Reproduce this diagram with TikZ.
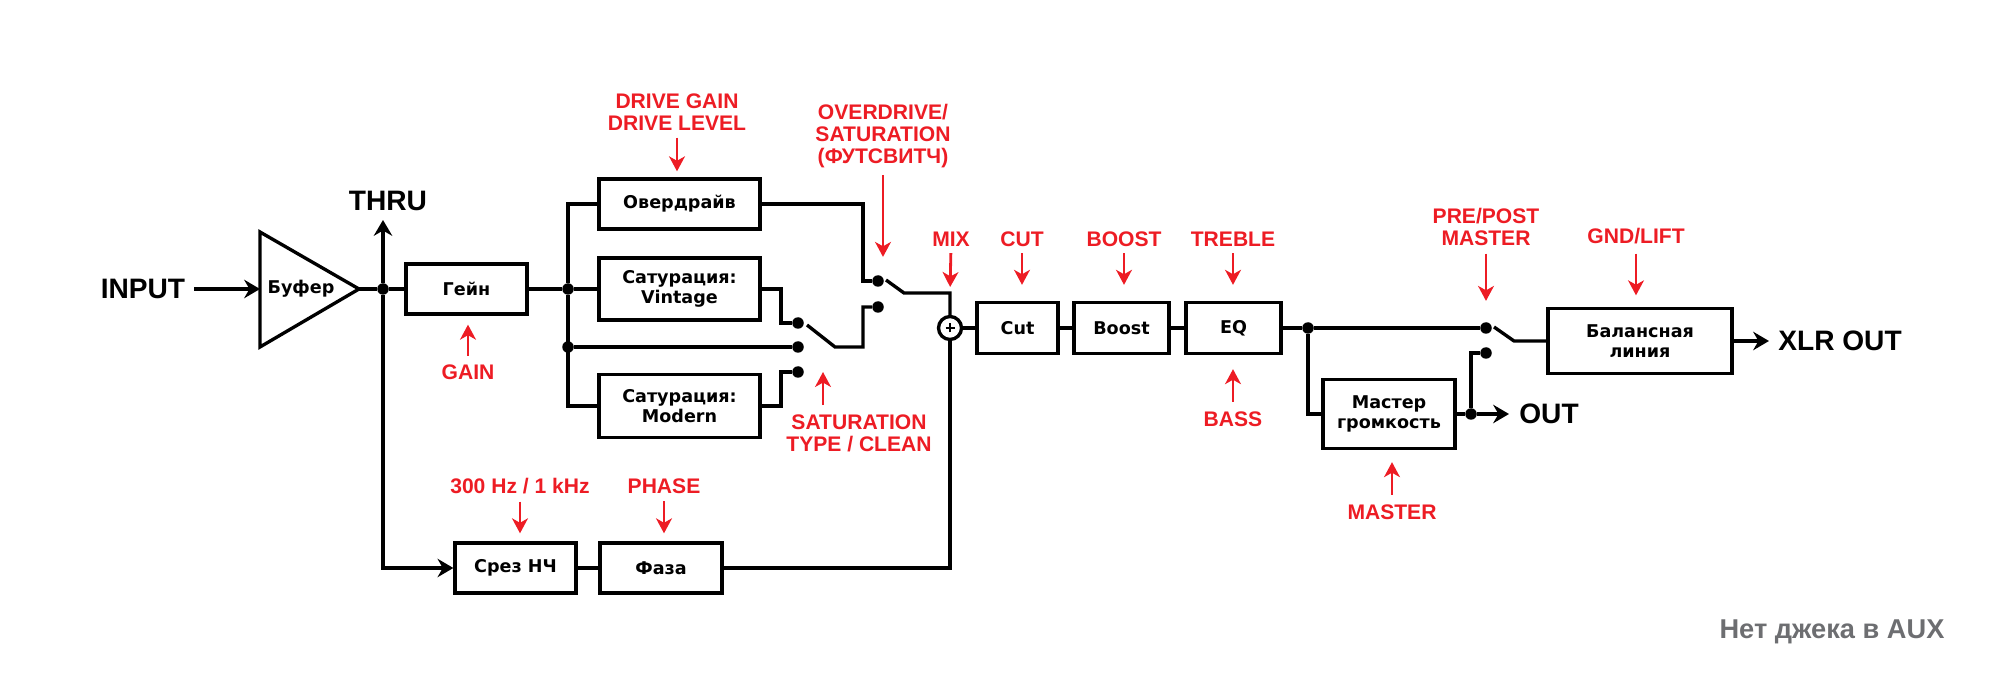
\documentclass[tikz,border=0pt]{standalone}
\usepackage{fontspec}
\setmainfont{Liberation Sans}
\newfontfamily\boxfont{DejaVu Sans}
\usetikzlibrary{arrows.meta}
\definecolor{ctlred}{HTML}{ED1C24}
\definecolor{notegray}{HTML}{6D6E71}

\begin{document}
\begin{tikzpicture}[x=0.02cm, y=-0.02cm,
	wire/.style={line width=1.9pt},
	sig/.style={wire, -{Stealth[length=9pt, width=10.5pt, inset=3pt]}},
	box/.style={draw, line width=1.9pt, inner sep=0pt, align=center, font=\boxfont\bfseries\fontsize{10}{11.6}\selectfont},
	dot/.style={circle, fill, inner sep=0pt, minimum size=0.23cm},
	ctl/.style={ctlred, line width=1.6pt, -{Stealth[length=8.5pt, width=9pt, inset=2.5pt]}},
	ctllabel/.style={text=ctlred, inner sep=0pt, align=center, font=\bfseries\fontsize{12}{12.5}\selectfont},
	bigtext/.style={inner sep=0pt, font=\bfseries\fontsize{16}{16}\selectfont}]
	\useasboundingbox (0,0) rectangle (2001,678);
	\node[bigtext] (input) at (143,289) {INPUT};
	\coordinate (bufin) at (260,289);
	\coordinate (bufout) at (359,289);
	\draw[wire] (260,232) -- (bufout) -- (260,347) -- cycle;
	\node[font=\boxfont\bfseries\fontsize{10}{11.6}\selectfont, inner sep=0pt] (buf) at (301,289) {Буфер};
	\draw[sig, shorten <=0.17cm] (input.east) -- (bufin);
	\node[box, minimum width=2.42cm, minimum height=1cm] (gain) at (466.5,289) {Гейн};
	\node[box, minimum width=3.22cm, minimum height=1cm] (od) at (679.5,204) {Овердрайв};
	\node[box, minimum width=3.22cm, minimum height=1.24cm] (vint) at (679.5,289) {Сатурация:\\Vintage};
	\node[box, minimum width=3.22cm, minimum height=1.25cm] (mod) at (679.5,406) {Сатурация:\\Modern};
	\node[box, minimum width=1.62cm, minimum height=1.02cm] (cut) at (1017.5,328) {Cut};
	\node[box, minimum width=1.9cm, minimum height=1.02cm] (boost) at (1121.5,328) {Boost};
	\node[box, minimum width=1.9cm, minimum height=1.02cm] (eq) at (1233.5,328) {EQ};
	\node[box, minimum width=2.64cm, minimum height=1.38cm] (master) at (1389,414) {Мастер\\громкость};
	\node[box, minimum width=3.68cm, minimum height=1.3cm] (bal) at (1640,341) {Балансная\\линия};
	\node[box, minimum width=2.42cm, minimum height=1cm] (hpf) at (515.5,568) {Срез НЧ};
	\node[box, minimum width=2.44cm, minimum height=1cm] (phase) at (661,568) {Фаза};
	\node[dot] (j1) at (383,289) {};
	\draw[wire] (bufout) -- (j1) -- (gain.west);
	\node[bigtext] (thru) at (388,201) {THRU};
	\coordinate (thrutip) at (383,220);
	\draw[sig] (j1) -- (thrutip);
	\draw[sig] (j1) |- (hpf.west);
	\node[dot] (jb1) at (568,289) {};
	\node[dot] (jb2) at (568,347) {};
	\draw[wire] (gain.east) -- (jb1) -- (vint.west);
	\draw[wire] (od.west) -| (jb1) |- (mod.west);
	\node[dot] (s1a) at (798,323) {};
	\node[dot] (s1b) at (798,347) {};
	\node[dot] (s1c) at (798,372) {};
	\draw[wire] (jb2) -- (s1b);
	\draw[wire] (vint.east) -- (781,289) |- (s1a);
	\draw[wire] (mod.east) -- (781,406) |- (s1c);
	\node[dot] (s2a) at (878,281) {};
	\node[dot] (s2b) at (878,307) {};
	\draw[wire] (807,325) -- (835,347) -- (863,347) |- (s2b);
	\draw[wire] (od.east) -- (863,204) |- (s2a);
	\node[circle, draw, line width=1.9pt, minimum size=0.46cm, inner sep=0pt] (sum) at (950,328) {};
	\draw[line width=1.5pt] ([xshift=-0.09cm]sum.center) -- ([xshift=0.09cm]sum.center) ([yshift=-0.09cm]sum.center) -- ([yshift=0.09cm]sum.center);
	\coordinate (mixin) at (950,293);
	\draw[wire] (886,280) -- (904,293) -- (mixin) -- (sum.north);
	\draw[wire] (sum.east) -- (cut.west) (cut.east) -- (boost.west) (boost.east) -- (eq.west);
	\draw[wire] (hpf.east) -- (phase.west);
	\draw[wire] (phase.east) -| (sum.south);
	\node[dot] (j3) at (1308,328) {};
	\node[dot] (s3a) at (1486,328) {};
	\node[dot] (s3b) at (1486,353) {};
	\draw[wire] (eq.east) -- (j3) -- (s3a);
	\draw[wire] (j3) |- (master.west);
	\node[dot] (j4) at (1471,414) {};
	\draw[wire] (master.east) -- (j4) |- (s3b);
	\node[bigtext] (out) at (1549,414) {OUT};
	\draw[sig, shorten >=0.2cm] (j4) -- (out.west);
	\draw[wire] (1494,327) -- (1514,341) -- (bal.west);
	\node[bigtext] (xlr) at (1840,341) {XLR OUT};
	\draw[sig, shorten >=0.18cm] (bal.east) -- (xlr.west);
	\node[font=\bfseries\fontsize{15.5}{15.5}\selectfont, text=notegray, inner sep=0pt] (note) at (1832,632) {Нет джека в AUX};
	\node[ctllabel] (lDrive) at (677,112) {DRIVE GAIN\\DRIVE LEVEL};
	\draw[ctl, shorten <=0.14cm, shorten >=0.12cm] (lDrive.south) -- (lDrive.south |- od.north);
	\node[ctllabel] (lFoot) at (883,136) {OVERDRIVE/\\SATURATION\\(ФУТСВИТЧ)};
	\draw[ctl, shorten <=0.14cm, shorten >=0.36cm] (lFoot.south) -- (lFoot.south |- s2a.north);
	\node[ctllabel] (lMix) at (951,239) {MIX};
	\draw[ctl, shorten <=0.13cm, shorten >=0.12cm] (lMix.south) -- (mixin);
	\node[ctllabel] (lSat) at (859,433) {SATURATION\\TYPE / CLEAN};
	\coordinate (sattip) at (823,372);
	\draw[ctl, shorten <=0.18cm] (sattip |- lSat.north) -- (sattip);
	\node[ctllabel] (lGain) at (468,372) {GAIN};
	\draw[ctl, shorten <=0.17cm, shorten >=0.18cm] (lGain.north) -- (lGain.north |- gain.south);
	\node[ctllabel] (lCut) at (1022,239) {CUT};
	\draw[ctl, shorten <=0.13cm, shorten >=0.32cm] (lCut.south) -- (lCut.south |- cut.north);
	\node[ctllabel] (lBoost) at (1124,239) {BOOST};
	\draw[ctl, shorten <=0.13cm, shorten >=0.32cm] (lBoost.south) -- (lBoost.south |- boost.north);
	\node[ctllabel] (lTreble) at (1233,239) {TREBLE};
	\draw[ctl, shorten <=0.13cm, shorten >=0.32cm] (lTreble.south) -- (lTreble.south |- eq.north);
	\node[ctllabel] (lBass) at (1233,419) {BASS};
	\draw[ctl, shorten <=0.19cm, shorten >=0.28cm] (lBass.north) -- (lBass.north |- eq.south);
	\node[ctllabel] (lPre) at (1486,227) {PRE/POST\\MASTER};
	\draw[ctl, shorten <=0.15cm, shorten >=0.42cm] (lPre.south) -- (lPre.south |- s3a.north);
	\node[ctllabel] (lGnd) at (1636,236) {GND/LIFT};
	\draw[ctl, shorten <=0.19cm, shorten >=0.23cm] (lGnd.south) -- (lGnd.south |- bal.north);
	\node[ctllabel] (lMaster) at (1392,512) {MASTER};
	\draw[ctl, shorten <=0.19cm, shorten >=0.24cm] (lMaster.north) -- (lMaster.north |- master.south);
	\node[ctllabel] (lHpf) at (520,486) {300 Hz / 1 kHz};
	\draw[ctl, shorten <=0.15cm, shorten >=0.16cm] (lHpf.south) -- (lHpf.south |- hpf.north);
	\node[ctllabel] (lPhase) at (664,486) {PHASE};
	\draw[ctl, shorten <=0.15cm, shorten >=0.16cm] (lPhase.south) -- (lPhase.south |- phase.north);
\end{tikzpicture}
\end{document}
